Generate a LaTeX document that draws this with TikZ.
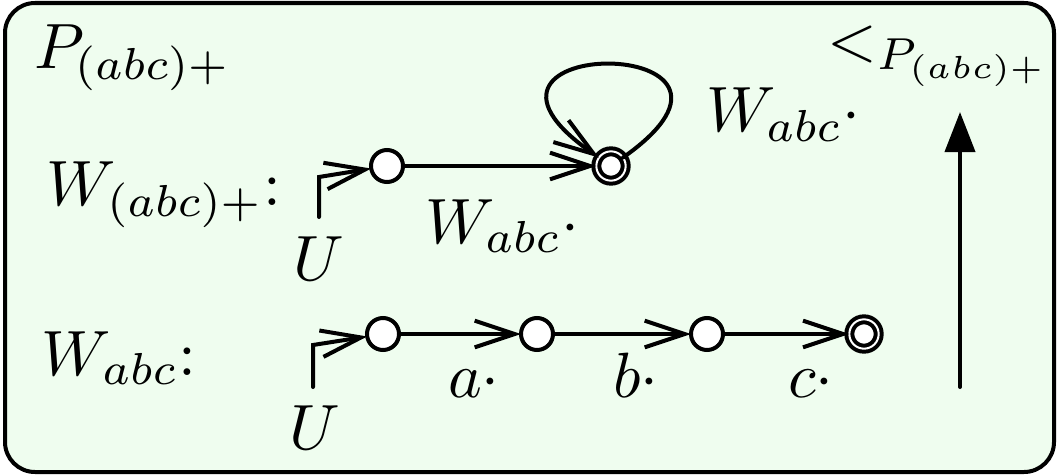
\documentclass[tikz,border=0pt]{standalone}
\usetikzlibrary{arrows.meta}
\definecolor{bgg}{RGB}{239,253,239}
\begin{document}
\begin{tikzpicture}[x=0.15pt,y=-0.15pt,
  every node/.style={inner sep=0pt,outer sep=0pt},
  st/.style={circle,draw,fill=white,line width=0.6pt,minimum size=4.8pt},
  acc/.style={circle,draw,fill=white,line width=0.6pt,double=white,double distance=0.3pt,minimum size=4.4pt},
  edge/.style={line width=0.6pt,line cap=round,-{Straight Barb[length=6pt,width=4pt]}},
  lbl/.style={anchor=base west,scale=0.96}]
\useasboundingbox (0,0) rectangle (1058,476);
\draw[line width=0.6pt, fill=bgg, rounded corners=4.5pt] (5,3) rectangle (1054,472);
\node[lbl] (title) at (34,68) {$P_{(abc)+}$};
\node[lbl] (order) at (827,60) {$<_{P_{(abc)+}}$};
\node[lbl] (wplus) at (47,205) {$W_{(abc)+}\colon$};
\node[lbl] (wabc) at (42,375) {$W_{abc}\colon$};
\node[st] (p0) at (387,166) {};
\node[acc] (p1) at (611,166) {};
\node[st] (q0) at (383,334) {};
\node[st] (q1) at (537,334) {};
\node[st] (q2) at (707,334) {};
\node[acc] (q3) at (864,334) {};
\node[lbl] (u1) at (293,280) {$U$};
\node[lbl] (u2) at (289,449) {$U$};
\coordinate (s1) at (319,217);
\coordinate (s2) at (313,387);
\draw[edge] (s1) -- ++(0,-40) -- (p0);
\draw[edge] (s2) -- ++(0,-42) -- (q0);
\draw[edge] (p0) -- (p1);
\draw[edge] (p1) .. controls (800,33) and (420,33) .. (p1);
\draw[edge] (q0) -- (q1);
\draw[edge] (q1) -- (q2);
\draw[edge] (q2) -- (q3);
\node[lbl] (l1) at (425,243) {$W_{abc}\cdot$};
\node[lbl] (l2) at (706,132) {$W_{abc}\cdot$};
\node[lbl] (la) at (448,397) {$a\cdot$};
\node[lbl] (lb) at (613,397) {$b\cdot$};
\node[lbl] (lc) at (788,397) {$c\cdot$};
\coordinate (vb) at (960,387);
\coordinate (vt) at (960,112);
\draw[line width=0.6pt,line cap=round,-{Triangle[length=6pt,width=4.5pt]}] (vb) -- (vt);
\end{tikzpicture}
\end{document}
